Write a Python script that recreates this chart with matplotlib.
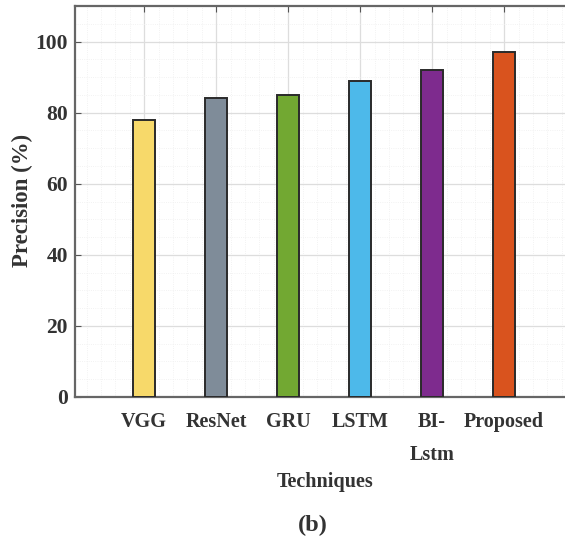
import matplotlib
matplotlib.use("Agg")
import matplotlib.pyplot as plt
from matplotlib.ticker import MultipleLocator

techniques = ["VGG", "ResNet", "GRU", "LSTM", "BI-\nLstm", "Proposed"]
precision = [78, 84, 85, 89, 92, 97]
colors = ["#f7d96a", "#7f8c99", "#72a832", "#4db9ea", "#7e2b8e", "#d9531e"]
y_ticks = [0, 20, 40, 60, 80, 100]

plt.rcParams["font.family"] = ["Liberation Serif", "DejaVu Serif"]
plt.rcParams["font.weight"] = "bold"

W, H = 565, 537
fig = plt.figure(figsize=(W / 100, H / 100), dpi=100)
# axes extends past the right edge of the figure
left, right, bottom, top = 75, 648, 397, 6
ax = fig.add_axes([left / W, 1 - bottom / H, (right - left) / W, (bottom - top) / H])

x = list(range(1, len(techniques) + 1))
ax.bar(x, precision, width=0.31, color=colors, edgecolor="#2a2a2a", linewidth=1.4, zorder=3)

ax.set_xlim(0.04, 0.04 + (right - left) / 72)
ax.set_ylim(0, 110)
ax.set_yticks(y_ticks)
ax.set_xticks(x)
ax.set_xticklabels(techniques, fontsize=14.5, color="#333333", linespacing=1.85)
ax.tick_params(axis="y", labelsize=15.5, colors="#333333", direction="in", length=4, pad=5,
               color="#555555")
ax.tick_params(axis="x", direction="in", length=4, pad=11, color="#555555", top=True,
               labelbottom=True)
ax.xaxis.set_minor_locator(MultipleLocator(0.2))
ax.yaxis.set_minor_locator(MultipleLocator(5))
ax.tick_params(which="minor", length=0)
ax.grid(True, which="major", color="#dddddd", linewidth=0.9, zorder=0)
ax.grid(True, which="minor", color="#eeeeee", linewidth=0.6, linestyle=":", zorder=0)
for s in ax.spines.values():
    s.set_color("#666666")
    s.set_linewidth(1.6)

for lbl in ax.get_xticklabels():
    lbl.set_verticalalignment("top")

fig.text(22 / W, 1 - 200 / H, "Precision (%)", rotation=90, ha="center", va="center",
         fontsize=16.5, color="#333333")
fig.text(325 / W, 1 - 482 / H, "Techniques", ha="center", va="center",
         fontsize=14.5, color="#333333")
fig.text(313 / W, 1 - 525 / H, "(b)", ha="center", va="center",
         fontsize=17.5, color="#333333")

fig.savefig("out.png", dpi=100)
